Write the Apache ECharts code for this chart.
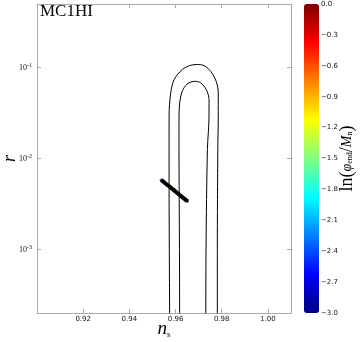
<!doctype html>
<html>
<head>
<meta charset="utf-8">
<title>MC1HI</title>
<script src="https://cdn.jsdelivr.net/npm/echarts@6/dist/echarts.min.js"></script>
<style>
    html, body { margin: 0; padding: 0; background: #fff; }
    #chart { width: 364px; height: 342px; }
</style>
</head>
<body>
<div id="chart"></div>
<script>
    // contour lines (ns, r)
    var outerNs = [0.9575, 0.9573, 0.9572, 0.9572, 0.9579, 0.9594, 0.9629, 0.9666, 0.9694, 0.9723, 0.9752, 0.9776, 0.9785, 0.9785, 0.9783, 0.9781, 0.9781];
    var outerR  = [1e-4, 1e-3, 5.4e-3, 2.92e-2, 5.27e-2, 7.38e-2, 9.51e-2, 0.106, 0.1079, 0.1052, 0.091, 0.0706, 0.0527, 0.0292, 0.01256, 1e-3, 1e-4];
    var innerNs = [0.9618, 0.9617, 0.9615, 0.9615, 0.9618, 0.9629, 0.9651, 0.9684, 0.9709, 0.9733, 0.9745, 0.9745, 0.9738, 0.9732, 0.9731];
    var innerR  = [1e-4, 1e-3, 0.01256, 0.0292, 0.0409, 0.0549, 0.0662, 0.0707, 0.0679, 0.0573, 0.0445, 0.0292, 0.01256, 1e-3, 1e-4];

    // model points, coloured by ln(phi_end / M_n)
    var ptNs = [0.9539, 0.9558, 0.9577, 0.9595, 0.9614, 0.9632, 0.9651];
    var ptR  = [5.78e-3, 5.28e-3, 4.84e-3, 4.43e-3, 4.05e-3, 3.71e-3, 3.40e-3];
    var ptLn = [-2.96, -2.97, -2.97, -2.98, -2.98, -2.99, -3.0];

    // axes / ticks
    var xRange = [0.90, 1.01];
    var xStep = 0.02;
    var rRange = [2e-4, 0.5];
    var cbRange = [-3.0, 0.0];
    var cbStep = 0.3;
    var jet = ['#000080', '#0000ff', '#0080ff', '#00ffff', '#80ff80', '#ffff00', '#ff8000', '#ff0000', '#800000'];

    function zip(a, b, c) {
        var out = [];
        for (var i = 0; i < a.length; i++) out.push(c ? [a[i], b[i], c[i]] : [a[i], b[i]]);
        return out;
    }

    var frame = '#aaaaaa';
    var tickStyle = { show: true, inside: true, length: 4, lineStyle: { color: frame } };

    var chart = echarts.init(document.getElementById('chart'));
    var option = {
        animation: false,
        title: {
            text: 'MC1HI',
            left: 40, top: 3, padding: 0,
            textStyle: { fontFamily: 'Liberation Serif', fontSize: 17, fontWeight: 'normal', color: '#000' }
        },
        grid: [
            { left: 37, top: 4, width: 254, height: 309, outerBoundsMode: 'none', containLabel: false },
            { left: 304, top: 4, width: 15, height: 309, outerBoundsMode: 'none', containLabel: false }
        ],
        xAxis: [{
            type: 'value', gridIndex: 0, min: xRange[0], max: xRange[1], interval: xStep,
            name: '{n|n}{s|s}', nameLocation: 'middle', nameGap: 5, nameMoveOverlap: false,
            nameTextStyle: {
                verticalAlign: 'top',
                rich: {
                    n: { fontFamily: 'Liberation Serif', fontStyle: 'italic', fontSize: 19, color: '#000' },
                    s: { fontFamily: 'Liberation Serif', fontSize: 9, color: '#000', padding: [12, 0, 0, 0] }
                }
            },
            axisLine: { lineStyle: { color: frame } },
            axisTick: tickStyle,
            splitLine: { show: false },
            axisLabel: {
                showMinLabel: false, showMaxLabel: false, margin: 3,
                fontFamily: 'DejaVu Sans', fontSize: 7, color: '#111',
                formatter: function (v) { return v.toFixed(2); }
            }
        }, {
            type: 'value', gridIndex: 0, position: 'top', min: xRange[0], max: xRange[1], interval: xStep,
            axisLine: { lineStyle: { color: frame } },
            axisTick: tickStyle, axisLabel: { show: false }, splitLine: { show: false }
        }, {
            type: 'value', gridIndex: 1, min: 0, max: 1, show: false
        }],
        yAxis: [{
            type: 'log', gridIndex: 0, min: rRange[0], max: rRange[1], logBase: 10,
            name: 'r', nameLocation: 'middle', nameGap: 18, nameRotate: 90, nameMoveOverlap: false,
            nameTextStyle: { fontFamily: 'Liberation Serif', fontStyle: 'italic', fontSize: 18, color: '#000' },
            axisLine: { lineStyle: { color: frame } },
            axisTick: tickStyle,
            splitLine: { show: false },
            axisLabel: {
                showMinLabel: false, showMaxLabel: false, margin: 5,
                formatter: function (v) { return '{m|10}{e|' + Math.round(Math.log10(v)) + '}'; },
                rich: {
                    m: { fontFamily: 'Liberation Serif', fontSize: 8, color: '#111' },
                    e: { fontFamily: 'Liberation Serif', fontSize: 6, color: '#111', padding: [0, 0, 5, 0] }
                }
            }
        }, {
            type: 'log', gridIndex: 0, position: 'right', min: rRange[0], max: rRange[1], logBase: 10,
            axisLine: { lineStyle: { color: frame } },
            axisTick: tickStyle, axisLabel: { show: false }, splitLine: { show: false }
        }, {
            type: 'value', gridIndex: 1, position: 'right', min: cbRange[0], max: cbRange[1], interval: cbStep,
            name: 'ln({a|φ}{b|end}/{a|M}{b|n})', nameLocation: 'middle', nameRotate: 90, nameGap: 19,
            nameMoveOverlap: false,
            nameTextStyle: {
                fontFamily: 'Liberation Serif', fontSize: 18, color: '#000',
                rich: {
                    a: { fontFamily: 'Liberation Serif', fontStyle: 'italic', fontSize: 14, color: '#000' },
                    b: { fontFamily: 'Liberation Serif', fontSize: 8, color: '#000', padding: [6, 0, 0, 0] }
                }
            },
            axisLine: { show: false }, axisTick: { show: false }, splitLine: { show: false },
            axisLabel: {
                margin: 2, fontFamily: 'DejaVu Sans', fontSize: 7, color: '#111',
                formatter: function (v) { return v.toFixed(1).replace('-', '\u2212'); }
            }
        }],
        visualMap: {
            type: 'continuous', min: cbRange[0], max: cbRange[1], dimension: 2, seriesIndex: 3,
            calculable: false, left: 304, top: 4, padding: 0, itemWidth: 15, itemHeight: 309,
            text: null, showLabel: false, hoverLink: false,
            inRange: { color: jet }
        },
        series: [{
            type: 'line', xAxisIndex: 0, yAxisIndex: 0, data: zip(outerNs, outerR),
            showSymbol: false, smooth: 0.3, lineStyle: { color: '#000', width: 1 }, silent: true
        }, {
            type: 'line', xAxisIndex: 0, yAxisIndex: 0, data: zip(innerNs, innerR),
            showSymbol: false, smooth: 0.3, lineStyle: { color: '#000', width: 1 }, silent: true
        }, {
            type: 'line', xAxisIndex: 0, yAxisIndex: 0, data: zip(ptNs, ptR),
            showSymbol: false, lineStyle: { color: '#000', width: 4 }, silent: true
        }, {
            type: 'scatter', xAxisIndex: 0, yAxisIndex: 0, data: zip(ptNs, ptR, ptLn),
            symbolSize: 3.5, silent: true
        }]
    };
    chart.setOption(option);
</script>
</body>
</html>
